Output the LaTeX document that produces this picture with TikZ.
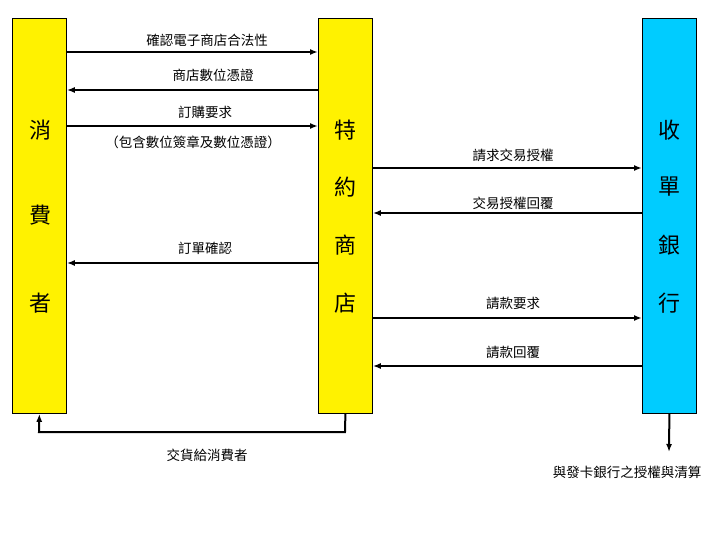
\documentclass[tikz,border=0pt]{standalone}
\usepackage{fontspec}
\setmainfont{Noto Sans CJK TC}
\usetikzlibrary{arrows.meta}
\definecolor{bk}{RGB}{0,204,255}
\begin{document}
\begin{tikzpicture}[x=1pt,y=-1pt,
 bar/.style={draw=black,line width=0.8pt,minimum width=54pt,minimum height=395pt,inner sep=0pt,anchor=north west},
 big/.style={font=\fontsize{22}{24}\selectfont},
 lbl/.style={font=\fontsize{13.5}{15}\selectfont},
 arr/.style={-{Latex[length=8pt,width=6pt]},line width=2pt}]
\useasboundingbox (0,0) rectangle (720,540);
\node[bar,fill=yellow] (c) at (12,18) {};
\node[bar,fill=yellow] (m) at (318,18) {};
\node[bar,fill=bk] (b) at (642,18) {};
\foreach \t/\y in {消/130,費/215,者/303} \node[big] at (40,\y) {\t};
\foreach \t/\y in {特/130,約/187,商/245,店/303} \node[big] at (345,\y) {\t};
\foreach \t/\y in {收/130,單/187,銀/245,行/303} \node[big] at (669,\y) {\t};
\draw[arr] (c.east|-0,52) -- (m.west|-0,52);
\draw[arr] (m.west|-0,90) -- (c.east|-0,90);
\draw[arr] (c.east|-0,126) -- (m.west|-0,126);
\draw[arr] (m.west|-0,263) -- (c.east|-0,263);
\draw[arr] (m.east|-0,168) -- (b.west|-0,168);
\draw[arr] (b.west|-0,213) -- (m.east|-0,213);
\draw[arr] (m.east|-0,318) -- (b.west|-0,318);
\draw[arr] (b.west|-0,366) -- (m.east|-0,366);
\node[lbl] at (207,40) {確認電子商店合法性};
\node[lbl] at (213,75) {商店數位憑證};
\node[lbl] at (205,112) {訂購要求};
\node[lbl] at (193,142) {（包含數位簽章及數位憑證）};
\node[lbl] at (205,248) {訂單確認};
\node[lbl] at (513,155) {請求交易授權};
\node[lbl] at (513,203) {交易授權回覆};
\node[lbl] at (513,303) {請款要求};
\node[lbl] at (513,352) {請款回覆};
\coordinate (d1) at (345,432);
\coordinate (d2) at (39,432);
\draw[arr] (m.south) -- (d1) -- (d2) -- (c.south);
\node[lbl] at (207,455) {交貨給消費者};
\coordinate (e) at (669,452);
\draw[arr] (b.south) -- (e);
\node[lbl] at (627,472) {與發卡銀行之授權與清算};
\end{tikzpicture}
\end{document}
